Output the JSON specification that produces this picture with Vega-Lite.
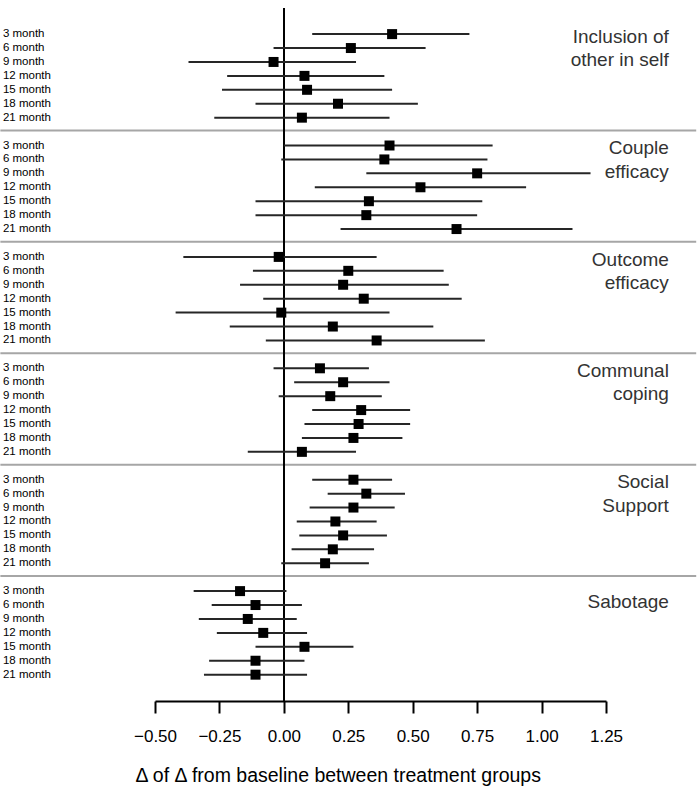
{
  "$schema": "https://vega.github.io/schema/vega-lite/v6.json",
  "width": 451,
  "height": 693,
  "autosize": {"type": "none"},
  "padding": {"left": 155, "top": 8, "right": 91, "bottom": 91},
  "background": "white",
  "config": {"view": {"stroke": null}, "font": "Liberation Sans"},
  "datasets": {
    "est": [
      {"outcome": "Inclusion of other in self", "month": "3 month", "est": 0.42, "lo": 0.11, "hi": 0.72},
      {"outcome": "Inclusion of other in self", "month": "6 month", "est": 0.26, "lo": -0.04, "hi": 0.55},
      {"outcome": "Inclusion of other in self", "month": "9 month", "est": -0.04, "lo": -0.37, "hi": 0.28},
      {"outcome": "Inclusion of other in self", "month": "12 month", "est": 0.08, "lo": -0.22, "hi": 0.39},
      {"outcome": "Inclusion of other in self", "month": "15 month", "est": 0.09, "lo": -0.24, "hi": 0.42},
      {"outcome": "Inclusion of other in self", "month": "18 month", "est": 0.21, "lo": -0.11, "hi": 0.52},
      {"outcome": "Inclusion of other in self", "month": "21 month", "est": 0.07, "lo": -0.27, "hi": 0.41},
      {"outcome": "Couple efficacy", "month": "3 month", "est": 0.41, "lo": 0.0, "hi": 0.81},
      {"outcome": "Couple efficacy", "month": "6 month", "est": 0.39, "lo": -0.01, "hi": 0.79},
      {"outcome": "Couple efficacy", "month": "9 month", "est": 0.75, "lo": 0.32, "hi": 1.19},
      {"outcome": "Couple efficacy", "month": "12 month", "est": 0.53, "lo": 0.12, "hi": 0.94},
      {"outcome": "Couple efficacy", "month": "15 month", "est": 0.33, "lo": -0.11, "hi": 0.77},
      {"outcome": "Couple efficacy", "month": "18 month", "est": 0.32, "lo": -0.11, "hi": 0.75},
      {"outcome": "Couple efficacy", "month": "21 month", "est": 0.67, "lo": 0.22, "hi": 1.12},
      {"outcome": "Outcome efficacy", "month": "3 month", "est": -0.02, "lo": -0.39, "hi": 0.36},
      {"outcome": "Outcome efficacy", "month": "6 month", "est": 0.25, "lo": -0.12, "hi": 0.62},
      {"outcome": "Outcome efficacy", "month": "9 month", "est": 0.23, "lo": -0.17, "hi": 0.64},
      {"outcome": "Outcome efficacy", "month": "12 month", "est": 0.31, "lo": -0.08, "hi": 0.69},
      {"outcome": "Outcome efficacy", "month": "15 month", "est": -0.01, "lo": -0.42, "hi": 0.41},
      {"outcome": "Outcome efficacy", "month": "18 month", "est": 0.19, "lo": -0.21, "hi": 0.58},
      {"outcome": "Outcome efficacy", "month": "21 month", "est": 0.36, "lo": -0.07, "hi": 0.78},
      {"outcome": "Communal coping", "month": "3 month", "est": 0.14, "lo": -0.04, "hi": 0.33},
      {"outcome": "Communal coping", "month": "6 month", "est": 0.23, "lo": 0.04, "hi": 0.41},
      {"outcome": "Communal coping", "month": "9 month", "est": 0.18, "lo": -0.02, "hi": 0.38},
      {"outcome": "Communal coping", "month": "12 month", "est": 0.30, "lo": 0.11, "hi": 0.49},
      {"outcome": "Communal coping", "month": "15 month", "est": 0.29, "lo": 0.08, "hi": 0.49},
      {"outcome": "Communal coping", "month": "18 month", "est": 0.27, "lo": 0.07, "hi": 0.46},
      {"outcome": "Communal coping", "month": "21 month", "est": 0.07, "lo": -0.14, "hi": 0.28},
      {"outcome": "Social Support", "month": "3 month", "est": 0.27, "lo": 0.11, "hi": 0.42},
      {"outcome": "Social Support", "month": "6 month", "est": 0.32, "lo": 0.17, "hi": 0.47},
      {"outcome": "Social Support", "month": "9 month", "est": 0.27, "lo": 0.10, "hi": 0.43},
      {"outcome": "Social Support", "month": "12 month", "est": 0.20, "lo": 0.05, "hi": 0.36},
      {"outcome": "Social Support", "month": "15 month", "est": 0.23, "lo": 0.06, "hi": 0.40},
      {"outcome": "Social Support", "month": "18 month", "est": 0.19, "lo": 0.03, "hi": 0.35},
      {"outcome": "Social Support", "month": "21 month", "est": 0.16, "lo": -0.01, "hi": 0.33},
      {"outcome": "Sabotage", "month": "3 month", "est": -0.17, "lo": -0.35, "hi": 0.01},
      {"outcome": "Sabotage", "month": "6 month", "est": -0.11, "lo": -0.28, "hi": 0.07},
      {"outcome": "Sabotage", "month": "9 month", "est": -0.14, "lo": -0.33, "hi": 0.05},
      {"outcome": "Sabotage", "month": "12 month", "est": -0.08, "lo": -0.26, "hi": 0.09},
      {"outcome": "Sabotage", "month": "15 month", "est": 0.08, "lo": -0.11, "hi": 0.27},
      {"outcome": "Sabotage", "month": "18 month", "est": -0.11, "lo": -0.29, "hi": 0.08},
      {"outcome": "Sabotage", "month": "21 month", "est": -0.11, "lo": -0.31, "hi": 0.09}
    ],
    "titles": [
      {"outcome": "Inclusion of other in self", "label": "Inclusion of\nother in self"},
      {"outcome": "Couple efficacy", "label": "Couple\nefficacy"},
      {"outcome": "Outcome efficacy", "label": "Outcome\nefficacy"},
      {"outcome": "Communal coping", "label": "Communal\ncoping"},
      {"outcome": "Social Support", "label": "Social\nSupport"},
      {"outcome": "Sabotage", "label": "Sabotage"}
    ]
  },
  "encoding": {
    "y": {
      "field": "outcome",
      "type": "nominal",
      "scale": {
        "type": "band",
        "domain": ["Inclusion of other in self", "Couple efficacy", "Outcome efficacy", "Communal coping", "Social Support", "Sabotage"],
        "paddingInner": 0,
        "paddingOuter": 0.1104,
        "align": 0.45
      },
      "axis": null
    }
  },
  "layer": [
    {
      "data": {"name": "titles"},
      "transform": [{"filter": "datum.outcome !== 'Sabotage'"}],
      "mark": {"type": "rule", "color": "#a6a6a6", "strokeWidth": 2},
      "encoding": {
        "x": {"datum": -1.1, "type": "quantitative"},
        "x2": {"datum": 1.6},
        "y": {"field": "outcome", "type": "nominal", "bandPosition": 1}
      }
    },
    {
      "data": {"name": "est"},
      "mark": {"type": "rule", "color": "#000000", "strokeWidth": 1.5},
      "encoding": {
        "x": {
          "datum": 0,
          "type": "quantitative",
          "scale": {"domain": [-0.5, 1.25], "nice": false, "zero": false},
          "axis": {
            "values": [-0.5, -0.25, 0, 0.25, 0.5, 0.75, 1, 1.25],
            "format": ".2f",
            "grid": false,
            "domainColor": "#000000",
            "domainWidth": 2,
            "tickColor": "#000000",
            "tickWidth": 2,
            "tickSize": 12,
            "labelFontSize": 17,
            "labelColor": "#000000",
            "labelPadding": 15,
            "labelFlush": false,
            "title": "Δ of Δ from baseline between treatment groups",
            "titleFontSize": 19.5,
            "titleFontWeight": "normal",
            "titleColor": "#000000",
            "titleAnchor": "start",
            "titleAlign": "left",
            "titleX": -20,
            "titleY": 80,
            "titleBaseline": "alphabetic"
          }
        },
        "y": null
      }
    },
    {
      "data": {"name": "est"},
      "mark": {"type": "rule", "color": "#262626", "strokeWidth": 2},
      "encoding": {
        "x": {"field": "lo", "type": "quantitative"},
        "x2": {"field": "hi"},
        "yOffset": {
          "field": "month",
          "type": "nominal",
          "scale": {"type": "point", "domain": ["3 month", "6 month", "9 month", "12 month", "15 month", "18 month", "21 month"], "padding": 1, "align": 0.54}
        }
      }
    },
    {
      "data": {"name": "est"},
      "mark": {"type": "square", "size": 100, "color": "#000000", "filled": true, "opacity": 1},
      "encoding": {
        "x": {"field": "est", "type": "quantitative"},
        "yOffset": {"field": "month", "type": "nominal"}
      }
    },
    {
      "data": {"name": "est"},
      "mark": {"type": "text", "align": "left", "baseline": "middle", "fontSize": 11.5, "color": "#000000"},
      "encoding": {
        "x": {"datum": -1.09, "type": "quantitative"},
        "yOffset": {"field": "month", "type": "nominal"},
        "text": {"field": "month"}
      }
    },
    {
      "data": {"name": "titles"},
      "transform": [{"filter": "datum.outcome !== 'Sabotage'"}],
      "mark": {"type": "text", "align": "right", "baseline": "middle", "fontSize": 19, "color": "#333333", "lineBreak": "\n", "lineHeight": 23.4},
      "encoding": {
        "x": {"datum": 1.494, "type": "quantitative"},
        "y": {"field": "outcome", "type": "nominal", "bandPosition": 0.16},
        "text": {"field": "label"}
      }
    },
    {
      "data": {"name": "titles"},
      "transform": [{"filter": "datum.outcome === 'Sabotage'"}],
      "mark": {"type": "text", "align": "right", "baseline": "middle", "fontSize": 19, "color": "#333333"},
      "encoding": {
        "x": {"datum": 1.494, "type": "quantitative"},
        "y": {"field": "outcome", "type": "nominal", "bandPosition": 0.235},
        "text": {"field": "label"}
      }
    }
  ]
}
